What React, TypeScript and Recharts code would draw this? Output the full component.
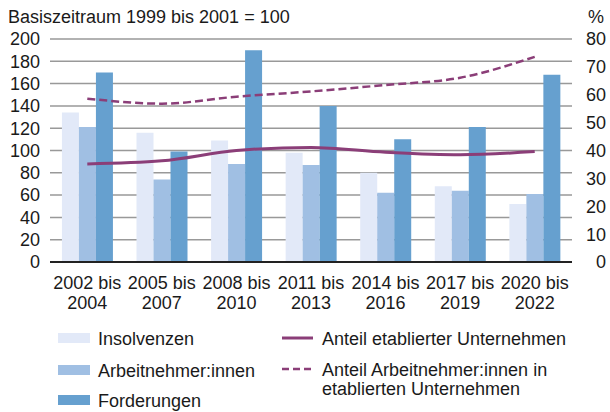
import { Bar, CartesianGrid, ComposedChart, Legend, Line, XAxis, YAxis } from "recharts"

// Zeiträume (Kategorien)
const periods = [
  "2002 bis 2004",
  "2005 bis 2007",
  "2008 bis 2010",
  "2011 bis 2013",
  "2014 bis 2016",
  "2017 bis 2019",
  "2020 bis 2022",
]

// Index, Basiszeitraum 1999 bis 2001 = 100
const insolvenzen = [134, 116, 109, 98, 80, 68, 52]
const arbeitnehmer = [121, 74, 88, 87, 62, 64, 61]
const forderungen = [170, 99, 190, 140, 110, 121, 168]

// Anteile in %
const anteilEtabliert = [35.2, 36.3, 40, 41.1, 39.4, 38.5, 39.6]
const anteilArbeitnehmer = [58.6, 56.8, 59.3, 61.2, 63.5, 66.1, 73.6]

const leftTicks = [0, 20, 40, 60, 80, 100, 120, 140, 160, 180, 200]
const rightTicks = [0, 10, 20, 30, 40, 50, 60, 70, 80]

const data = periods.map((period, i) => ({
  period,
  insolvenzen: insolvenzen[i],
  arbeitnehmer: arbeitnehmer[i],
  forderungen: forderungen[i],
  anteilEtabliert: anteilEtabliert[i],
  anteilArbeitnehmer: anteilArbeitnehmer[i],
}))

const FONT = "'Liberation Sans', Arial, Helvetica, sans-serif"
const TEXT = "#1a1a1a"
const C_INS = "#e2e9f8"
const C_ARB = "#a0bfe3"
const C_FORD = "#66a0cf"
const C_LINE = "#8b3e78"

function PeriodTick({ x, y, payload }: any) {
  const [from, to] = String(payload.value).split(" bis ")
  return (
    <text x={x} y={y} textAnchor="middle" fill={TEXT} fontSize={18} fontFamily={FONT}>
      <tspan x={x} y={y + 19}>{from} bis</tspan>
      <tspan x={x} y={y + 39}>{to}</tspan>
    </text>
  )
}

function LegendBox() {
  // coordinates relative to legend top (y = 320 on the page)
  const top = 320
  return (
    <svg width={610} height={92} style={{ display: "block" }}>
      <g fontFamily={FONT} fontSize={18} fill={TEXT}>
        <rect x={58} y={333 - top} width={32} height={10} fill={C_INS} />
        <text x={98} y={344.5 - top}>Insolvenzen</text>
        <rect x={58} y={365 - top} width={32} height={10} fill={C_ARB} />
        <text x={98} y={376.5 - top}>Arbeitnehmer:innen</text>
        <rect x={58} y={395 - top} width={32} height={10} fill={C_FORD} />
        <text x={98} y={406.5 - top}>Forderungen</text>

        <line x1={282} x2={313} y1={338 - top} y2={338 - top} stroke={C_LINE} strokeWidth={3} />
        <text x={322} y={344.5 - top}>Anteil etablierter Unternehmen</text>
        <line
          x1={282}
          x2={313}
          y1={369 - top}
          y2={369 - top}
          stroke={C_LINE}
          strokeWidth={2.5}
          strokeDasharray="7 4"
        />
        <text x={322} y={375.5 - top}>Anteil Arbeitnehmer:innen in</text>
        <text x={322} y={394.5 - top}>etablierten Unternehmen</text>
      </g>
    </svg>
  )
}

export default function App() {
  return (
    <div style={{ position: "absolute", left: 0, top: 0, width: 610, height: 412, background: "#fff", fontFamily: FONT }}>
      <div style={{ position: "absolute", left: 8, top: 8, fontSize: 18, lineHeight: "18px", color: TEXT, whiteSpace: "nowrap" }}>
        Basiszeitraum 1999 bis 2001 = 100
      </div>
      <div style={{ position: "absolute", left: 588, top: 8, fontSize: 18, lineHeight: "18px", color: TEXT }}>%</div>
      <ComposedChart
        width={610}
        height={412}
        data={data}
        margin={{ top: 39, right: 0, bottom: 100, left: 0 }}
        barCategoryGap="16%"
        barGap={0}
      >
        <CartesianGrid vertical={false} stroke="#999" strokeWidth={1.5} yAxisId="left" />
        <XAxis
          dataKey="period"
          height={50}
          interval={0}
          tickLine={false}
          axisLine={{ stroke: "#222", strokeWidth: 2 }}
          tick={<PeriodTick />}
        />
        <YAxis
          yAxisId="left"
          width={50}
          domain={[0, 200]}
          ticks={leftTicks}
          interval={0}
          tickLine={false}
          axisLine={false}
          tickMargin={4}
          tick={{ fill: TEXT, fontSize: 18, fontFamily: FONT }}
        />
        <YAxis
          yAxisId="right"
          orientation="right"
          width={38}
          domain={[0, 80]}
          ticks={rightTicks}
          interval={0}
          tickLine={false}
          axisLine={false}
          tickMargin={28}
          tick={{ fill: TEXT, fontSize: 18, fontFamily: FONT, textAnchor: "end" }}
        />
        <Bar yAxisId="left" dataKey="insolvenzen" name="Insolvenzen" fill={C_INS} isAnimationActive={false} />
        <Bar yAxisId="left" dataKey="arbeitnehmer" name="Arbeitnehmer:innen" fill={C_ARB} isAnimationActive={false} />
        <Bar yAxisId="left" dataKey="forderungen" name="Forderungen" fill={C_FORD} isAnimationActive={false} />
        <Line
          yAxisId="right"
          type="monotone"
          dataKey="anteilEtabliert"
          name="Anteil etablierter Unternehmen"
          stroke={C_LINE}
          strokeWidth={3}
          dot={false}
          isAnimationActive={false}
        />
        <Line
          yAxisId="right"
          type="monotone"
          dataKey="anteilArbeitnehmer"
          name="Anteil Arbeitnehmer:innen in etablierten Unternehmen"
          stroke={C_LINE}
          strokeWidth={2.5}
          strokeDasharray="8 4"
          dot={false}
          isAnimationActive={false}
        />
        <Legend
          layout="horizontal"
          verticalAlign="middle"
          align="center"
          content={<LegendBox />}
          wrapperStyle={{ left: 0, top: 320, width: 610, height: 92 }}
        />
      </ComposedChart>
    </div>
  )
}
